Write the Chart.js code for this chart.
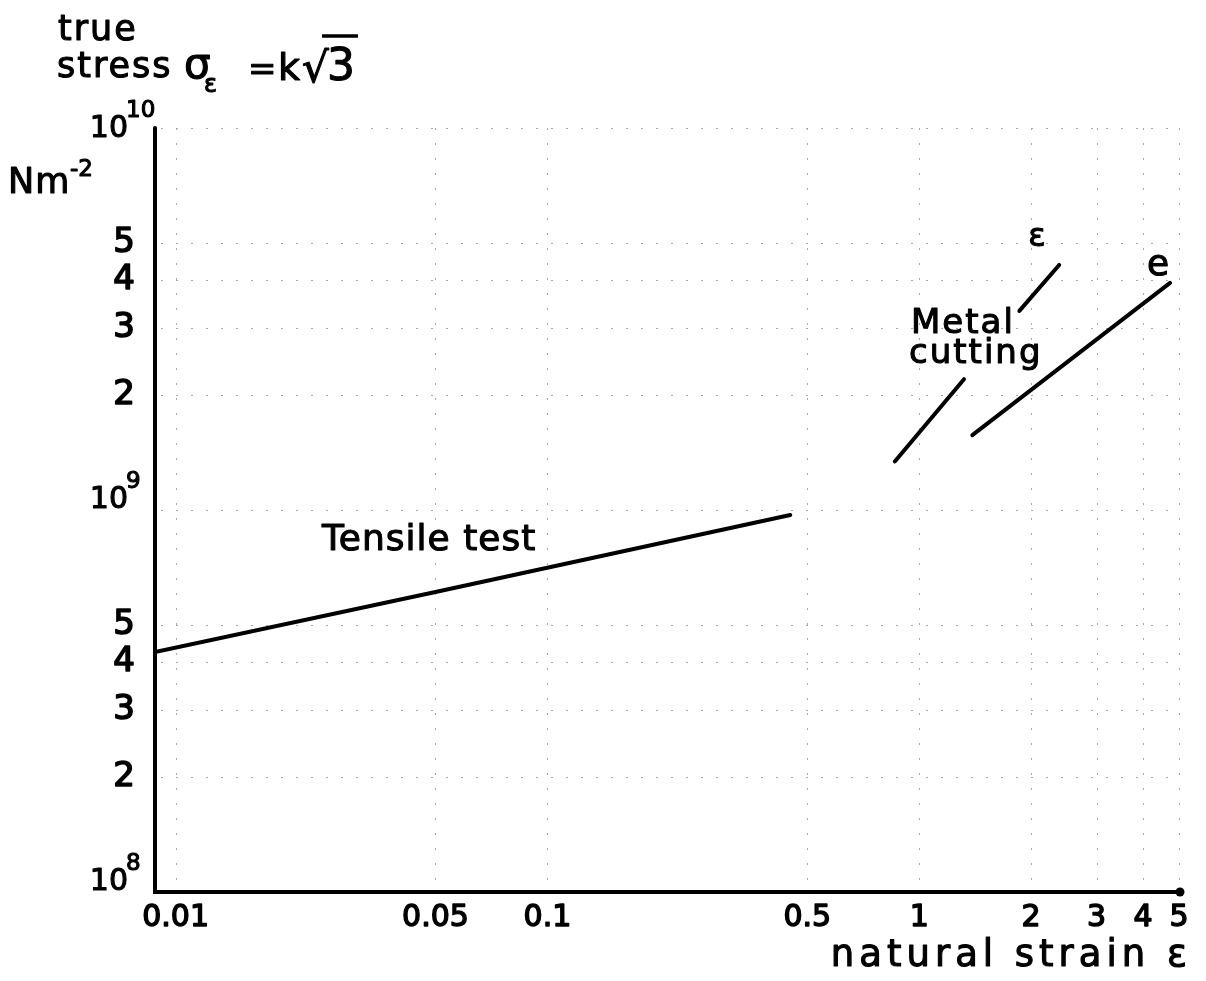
<!DOCTYPE html>
<html><head><meta charset="utf-8">
<script src="https://cdn.jsdelivr.net/npm/chart.js@4/dist/chart.umd.min.js"></script>
<style>html,body{margin:0;padding:0;background:#fff;}canvas{display:block;}</style>
</head><body>
<canvas id="c" width="1206" height="981"></canvas>
<script>
// ---- data ----
const tensileStrain = [0.0088, 0.05, 0.45];
const tensileStress = [4.25e8, 6.1e8, 9.7e8];
const cuttingNaturalLowStrain = [0.86, 1.32];
const cuttingNaturalLowStress = [1.34e9, 2.2e9];
const cuttingNaturalHighStrain = [1.86, 2.38];
const cuttingNaturalHighStress = [3.32e9, 4.38e9];
const cuttingEngStrain = [1.39, 4.73];
const cuttingEngStress = [1.57e9, 3.93e9];
const xTickValues = [0.01, 0.05, 0.1, 0.5, 1, 2, 3, 4, 5];
const xTickLabels = ['0.01', '0.05', '0.1', '0.5', '1', '2', '3', '4', '5'];
const yTickValues = [1e8, 2e8, 3e8, 4e8, 5e8, 1e9, 2e9, 3e9, 4e9, 5e9, 1e10];
const yTickMantissas = ['10', '2', '3', '4', '5', '10', '2', '3', '4', '5', '10'];
const yTickExponents = ['8', '', '', '', '', '9', '', '', '', '', '10'];
const xMin = 0.0088, xMax = 5.03, yMin = 1e8, yMax = 1e10;

const pts = (xs, ys) => xs.map((x, i) => ({x: x, y: ys[i]}));
const FONT = '"DejaVu Sans", sans-serif';

function txt(ctx, s, x, y, size, align, base, spacing, weight) {
  ctx.font = size + 'px ' + FONT;
  ctx.textAlign = align || 'left';
  ctx.textBaseline = base || 'alphabetic';
  try { ctx.letterSpacing = (spacing || 0) + 'px'; } catch (e) {}
  ctx.fillText(s, x, y);
  ctx.lineWidth = weight === undefined ? 1.1 : weight;
  ctx.lineJoin = 'round';
  if (ctx.lineWidth > 0) ctx.strokeText(s, x, y);
  try { ctx.letterSpacing = '0px'; } catch (e) {}
}

const drawPlugin = {
  id: 'handDrawn',
  beforeDatasetsDraw(chart) {
    const ctx = chart.ctx, xs = chart.scales.x, ys = chart.scales.y, a = chart.chartArea;
    ctx.save();
    // faint dotted grid
    ctx.strokeStyle = '#a8a8a8'; ctx.lineWidth = 1; ctx.setLineDash([2, 13]);
    yTickValues.forEach(v => {
      if (v === yMin) return;
      const py = Math.round(ys.getPixelForValue(v)) + 0.5;
      ctx.beginPath(); ctx.moveTo(a.left + 6, py); ctx.lineTo(a.right, py); ctx.stroke();
    });
    xTickValues.forEach(v => {
      const px = Math.round(xs.getPixelForValue(v)) + 0.5;
      ctx.beginPath(); ctx.moveTo(px, a.top); ctx.lineTo(px, a.bottom - 4); ctx.stroke();
    });
    ctx.setLineDash([]);
    // axes
    ctx.strokeStyle = '#000'; ctx.lineWidth = 4; ctx.lineCap = 'round';
    ctx.beginPath();
    ctx.moveTo(a.left, a.top); ctx.lineTo(a.left, a.bottom); ctx.lineTo(a.right, a.bottom);
    ctx.stroke();
    ctx.fillStyle = '#000';
    ctx.beginPath(); ctx.arc(a.right, a.bottom, 4.5, 0, Math.PI * 2); ctx.fill();
    ctx.restore();
  },
  afterDraw(chart) {
    const ctx = chart.ctx, xs = chart.scales.x, ys = chart.scales.y, a = chart.chartArea;
    ctx.save();
    ctx.fillStyle = '#000'; ctx.strokeStyle = '#000';
    // y tick labels
    yTickValues.forEach((v, i) => {
      const py = ys.getPixelForValue(v);
      if (yTickExponents[i]) {
        const top = v === yMax;
        const base = top ? py + 9 : py - 2;
        txt(ctx, yTickMantissas[i], 128, base, 30, 'right');
        txt(ctx, yTickExponents[i], 126, base - 20, 23, 'left');
      } else {
        txt(ctx, yTickMantissas[i], 124, py, 34, 'center', 'middle', 0, 1.6);
      }
    });
    // x tick labels
    xTickValues.forEach((v, i) => {
      txt(ctx, xTickLabels[i], xs.getPixelForValue(v), a.bottom + 26, 30, 'center', 'middle', 0, 1.5);
    });
    // axis titles
    txt(ctx, 'true', 58, 40, 35, 'left', 'alphabetic', 2);
    txt(ctx, 'stress', 57, 77, 35, 'left', 'alphabetic', 2);
    txt(ctx, 'σ', 184, 78, 42, 'left');
    txt(ctx, 'ε', 204, 92, 24, 'left');
    txt(ctx, '=', 248, 80, 34, 'left');
    txt(ctx, 'k', 278, 80, 38, 'left');
    txt(ctx, '√', 302, 82, 42, 'left');
    txt(ctx, '3', 327, 80, 44, 'left');
    ctx.lineWidth = 3.5;
    ctx.beginPath(); ctx.moveTo(322, 36); ctx.lineTo(358, 36); ctx.stroke();
    txt(ctx, 'Nm', 8, 193, 35, 'left', 'alphabetic', 1);
    txt(ctx, '-2', 70, 176, 23, 'left');
    txt(ctx, 'natural strain ε', 1192, 966, 37, 'right', 'alphabetic', 5);
    // annotations
    txt(ctx, 'Tensile test', 322, 550, 36, 'left', 'alphabetic', 1);
    txt(ctx, 'Metal', 911, 333, 34, 'left', 'alphabetic', 2);
    txt(ctx, 'cutting', 909, 363, 34, 'left', 'alphabetic', 2);
    txt(ctx, 'ε', 1037, 238, 32, 'center', 'middle');
    txt(ctx, 'e', 1158, 266, 36, 'center', 'middle');
    ctx.restore();
  }
};

const lineStyle = {borderColor: '#000', borderWidth: 4, pointRadius: 0, showLine: true,
  borderCapStyle: 'round', fill: false, tension: 0};

new Chart(document.getElementById('c'), {
  type: 'scatter',
  data: {
    datasets: [
      Object.assign({label: 'Tensile test', data: pts(tensileStrain, tensileStress)}, lineStyle),
      Object.assign({label: 'Metal cutting ε (lower)', data: pts(cuttingNaturalLowStrain, cuttingNaturalLowStress)}, lineStyle),
      Object.assign({label: 'Metal cutting ε (upper)', data: pts(cuttingNaturalHighStrain, cuttingNaturalHighStress)}, lineStyle),
      Object.assign({label: 'Metal cutting e', data: pts(cuttingEngStrain, cuttingEngStress)}, lineStyle)
    ]
  },
  options: {
    responsive: false, animation: false, devicePixelRatio: 1,
    layout: {padding: {left: 155, right: 26, top: 128, bottom: 89}},
    plugins: {legend: {display: false}, tooltip: {enabled: false}},
    scales: {
      x: {type: 'logarithmic', min: xMin, max: xMax, display: false},
      y: {type: 'logarithmic', min: yMin, max: yMax, display: false}
    }
  },
  plugins: [drawPlugin]
});
</script>
</body></html>
